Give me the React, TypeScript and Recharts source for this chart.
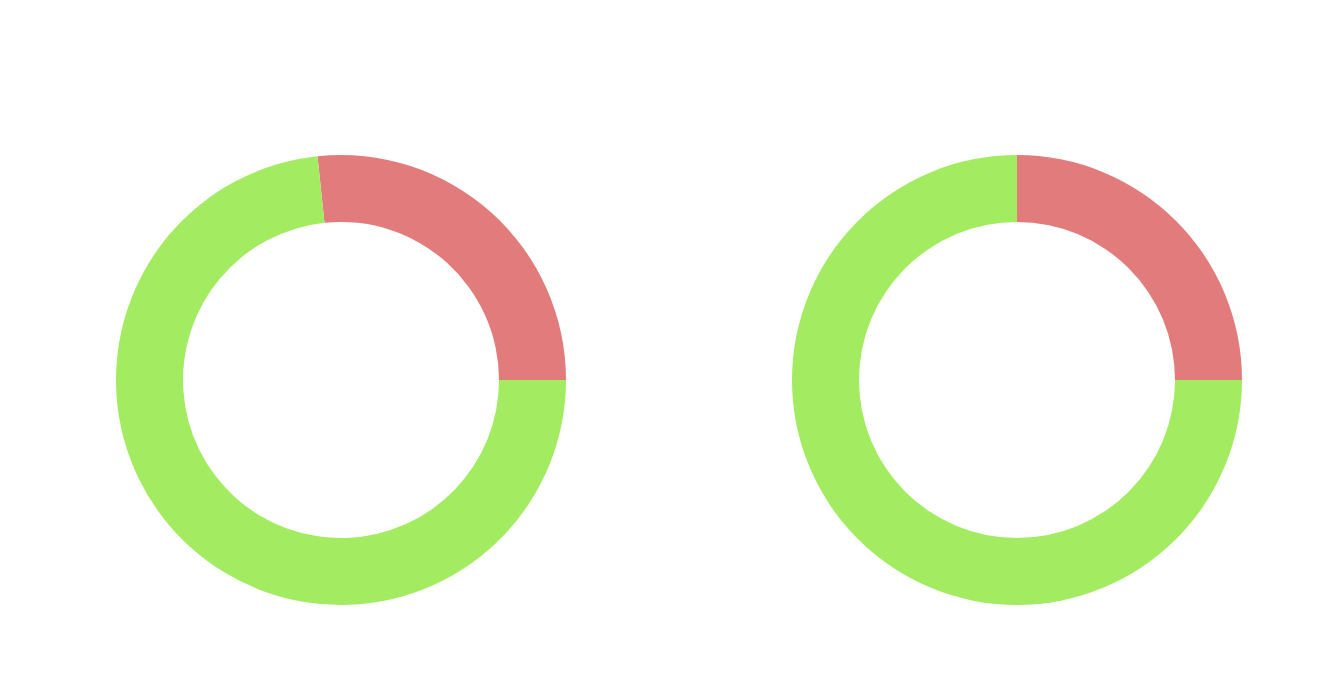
import { Cell, Pie, PieChart } from 'recharts';

const leftNames = ['Failed', 'Passed'];
const leftValues = [4, 11];
const rightNames = ['Failed', 'Passed'];
const rightValues = [1, 3];
const sliceColors = ['#e27b7b', '#a3eb61'];

const leftData = leftNames.map((name, i) => ({ name, value: leftValues[i] }));
const rightData = rightNames.map((name, i) => ({ name, value: rightValues[i] }));

export default function App() {
  return (
    <div style={{ position: 'absolute', left: 0, top: 0, width: 1319, height: 682, background: '#fff' }}>
      <PieChart width={1319} height={682} margin={{ top: 0, right: 0, bottom: 0, left: 0 }}>
        <Pie
          data={leftData}
          dataKey="value"
          nameKey="name"
          cx={341}
          cy={380}
          innerRadius={158}
          outerRadius={225}
          startAngle={0}
          endAngle={360}
          stroke="none"
          isAnimationActive={false}
        >
          {leftData.map((d, i) => (
            <Cell key={d.name} fill={sliceColors[i]} />
          ))}
        </Pie>
        <Pie
          data={rightData}
          dataKey="value"
          nameKey="name"
          cx={1017}
          cy={380}
          innerRadius={158}
          outerRadius={225}
          startAngle={0}
          endAngle={360}
          stroke="none"
          isAnimationActive={false}
        >
          {rightData.map((d, i) => (
            <Cell key={d.name} fill={sliceColors[i]} />
          ))}
        </Pie>
      </PieChart>
    </div>
  );
}
